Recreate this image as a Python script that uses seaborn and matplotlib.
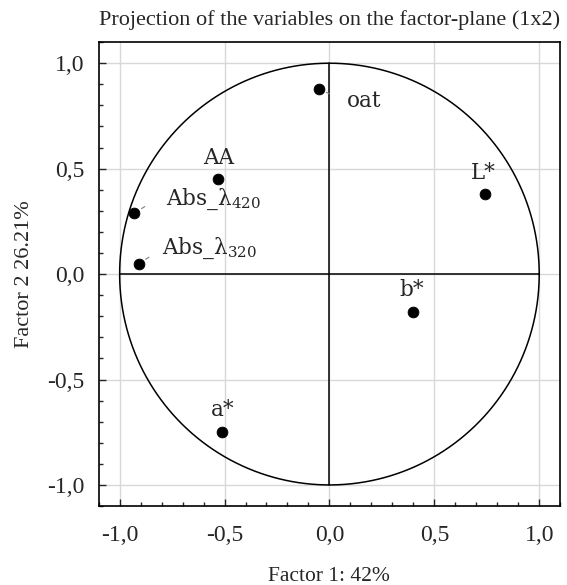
import numpy as np
import pandas as pd
import seaborn as sns
import matplotlib.pyplot as plt
from matplotlib.ticker import MultipleLocator, FuncFormatter

# Coordenadas das variáveis no plano fatorial
variables = ['oat', 'AA', 'Abs_420', 'Abs_320', 'L*', 'b*', 'a*']
factor1 = [-0.05, -0.53, -0.93, -0.91, 0.74, 0.40, -0.51]
factor2 = [0.88, 0.45, 0.29, 0.05, 0.38, -0.18, -0.75]
labels = ['oat', 'AA', 'Abs_λ$_{420}$', 'Abs_λ$_{320}$', 'L*', 'b*', 'a*']

df = pd.DataFrame({'var': variables, 'f1': factor1, 'f2': factor2})

sns.set_style('white')
plt.rcParams['font.family'] = ['Liberation Serif', 'DejaVu Serif']
plt.rcParams['mathtext.fontset'] = 'custom'
plt.rcParams['mathtext.rm'] = 'DejaVu Serif'
plt.rcParams['mathtext.it'] = 'DejaVu Serif'
plt.rcParams['mathtext.default'] = 'regular'

fig = plt.figure(figsize=(5.67, 5.85), dpi=100)
ax = fig.add_axes([0.174, 0.135, 0.814, 0.793])

# Círculo de correlação e eixos
t = np.linspace(0, 2 * np.pi, 400)
ax.plot(np.cos(t), np.sin(t), color='black', lw=1.1, zorder=2)
ax.plot([-1, 1], [0, 0], color='black', lw=1.1, zorder=2)
ax.plot([0, 0], [-1, 1], color='black', lw=1.1, zorder=2)

sns.scatterplot(data=df, x='f1', y='f2', ax=ax, color='black', s=60,
                edgecolor='black', zorder=3, legend=False)

# Posições dos rótulos (deslocamento em pontos)
offsets = {
    'oat': (20, -9, 'left'),
    'AA': (0, 15, 'center'),
    'Abs_420': (23, 10, 'left'),
    'Abs_320': (17, 11, 'left'),
    'L*': (-1, 15, 'center'),
    'b*': (-1, 16, 'center'),
    'a*': (0, 16, 'center'),
}
for name, lab, x, y in zip(variables, labels, factor1, factor2):
    dx, dy, ha = offsets[name]
    ax.annotate(lab, (x, y), xytext=(dx, dy), textcoords='offset points',
                ha=ha, va='center', fontsize=15.5, family='DejaVu Serif', zorder=4)

# Pequenos traços de ligação
for name, x, y in zip(variables, factor1, factor2):
    if name in ('oat', 'Abs_420', 'Abs_320'):
        ax.annotate('', (x, y), xytext=(x + 0.05, y + (0.03 if name != 'oat' else -0.025)),
                    arrowprops=dict(arrowstyle='-', color='gray', lw=0.8,
                                    shrinkA=0, shrinkB=6))

ax.set_xlim(-1.1, 1.1)
ax.set_ylim(-1.1, 1.1)
ax.xaxis.set_major_locator(MultipleLocator(0.5))
ax.yaxis.set_major_locator(MultipleLocator(0.5))
ax.xaxis.set_minor_locator(MultipleLocator(0.1))
ax.yaxis.set_minor_locator(MultipleLocator(0.1))
fmt = FuncFormatter(lambda v, p: f'{v:.1f}'.replace('.', ',').replace('-0,0', '0,0'))
ax.xaxis.set_major_formatter(fmt)
ax.yaxis.set_major_formatter(fmt)
ax.tick_params(which='major', direction='in', length=5, width=1, labelsize=17,
               bottom=True, left=True, top=False, right=False, pad=10)
ax.tick_params(which='major', axis='x', pad=14)
ax.tick_params(which='minor', direction='in', length=3, width=1,
               bottom=True, left=True, top=False, right=False)
ax.grid(True, which='major', color='#d8d8d8', lw=1)
ax.set_axisbelow(True)
for sp in ax.spines.values():
    sp.set_color('black')
    sp.set_linewidth(1.2)

ax.set_title('Projection of the variables on the factor-plane (1x2)', fontsize=16, pad=12)
ax.set_xlabel('Factor 1: 42%', fontsize=15.5, labelpad=15)
ax.set_ylabel('Factor 2 26.21%', fontsize=16, labelpad=10)

fig.savefig('out.png', dpi=100)
